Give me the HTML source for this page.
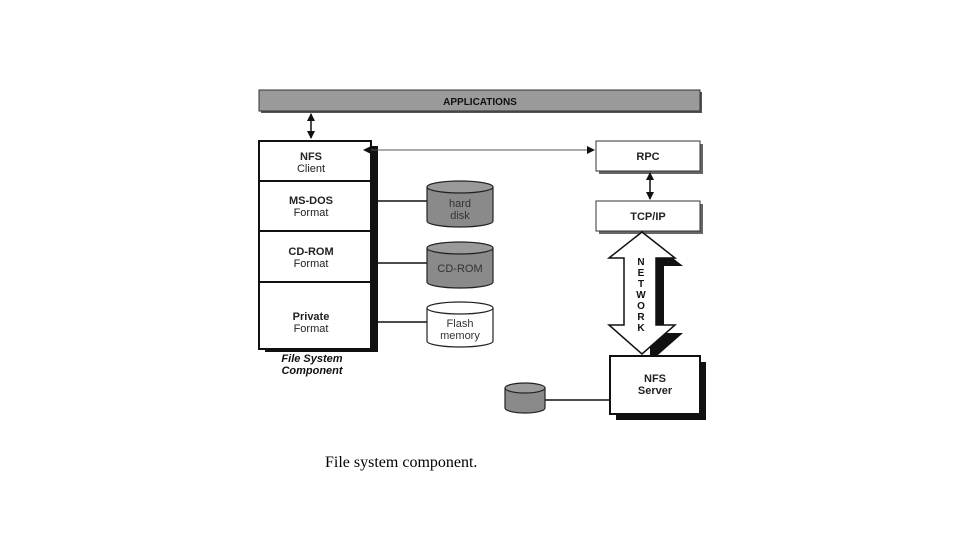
<!DOCTYPE html>
<html><head><meta charset="utf-8"><style>
body{margin:0;background:#fff;width:960px;height:540px;overflow:hidden}
svg{display:block}
</style></head><body>
<svg width="960" height="540" viewBox="0 0 960 540" font-family="Liberation Sans, Arial, sans-serif">
<defs>
<marker id="ah" markerWidth="8" markerHeight="8" refX="7" refY="4" orient="auto-start-reverse" markerUnits="userSpaceOnUse"><path d="M0,0 L8,4 L0,8 z" fill="#111"/></marker>
</defs>
<rect x="261" y="92" width="441" height="21" fill="#555"/>
<rect x="259" y="90" width="441" height="21" fill="#9a9a9a" stroke="#333" stroke-width="1"/>
<text x="480" y="105" font-size="10" font-weight="bold" text-anchor="middle" fill="#111">APPLICATIONS</text>
<line x1="311" y1="114" x2="311" y2="138" stroke="#111" stroke-width="1.5" marker-start="url(#ah)" marker-end="url(#ah)"/>
<rect x="366" y="146" width="12" height="206" fill="#111"/>
<rect x="265" y="346" width="113" height="6" fill="#111"/>
<rect x="259" y="141" width="112" height="208" fill="#fff" stroke="#111" stroke-width="2"/>
<line x1="259" y1="181" x2="371" y2="181" stroke="#111" stroke-width="2"/>
<line x1="259" y1="231" x2="371" y2="231" stroke="#111" stroke-width="2"/>
<line x1="259" y1="282" x2="371" y2="282" stroke="#111" stroke-width="2"/>
<g font-size="11" text-anchor="middle" fill="#222">
<text x="311" y="160" font-weight="bold">NFS</text><text x="311" y="172">Client</text>
<text x="311" y="204" font-weight="bold">MS-DOS</text><text x="311" y="216">Format</text>
<text x="311" y="255" font-weight="bold">CD-ROM</text><text x="311" y="267">Format</text>
<text x="311" y="320" font-weight="bold">Private</text><text x="311" y="332">Format</text>
</g>
<g font-size="11" font-weight="bold" font-style="italic" text-anchor="middle" fill="#111">
<text x="312" y="362">File System</text><text x="312" y="374">Component</text>
</g>
<g stroke="#111" stroke-width="1.5">
<line x1="371" y1="201" x2="427" y2="201"/>
<line x1="371" y1="263" x2="427" y2="263"/>
<line x1="371" y1="322" x2="427" y2="322"/>
<line x1="545" y1="400" x2="610" y2="400"/>
</g>
<g stroke="#222" stroke-width="1.2">
<path d="M427,187 V221 A33,6 0 0 0 493,221 V187" fill="#8a8a8a"/><ellipse cx="460" cy="187" rx="33" ry="6" fill="#9a9a9a"/>
<path d="M427,248 V282 A33,6 0 0 0 493,282 V248" fill="#8a8a8a"/><ellipse cx="460" cy="248" rx="33" ry="6" fill="#9a9a9a"/>
<path d="M427,308 V341 A33,6 0 0 0 493,341 V308" fill="#fff"/><ellipse cx="460" cy="308" rx="33" ry="6" fill="#fff"/>
<path d="M505,388 V408 A20,5 0 0 0 545,408 V388" fill="#8a8a8a"/><ellipse cx="525" cy="388" rx="20" ry="5" fill="#9a9a9a"/>
</g>
<g font-size="11" text-anchor="middle" fill="#333">
<text x="460" y="207">hard</text><text x="460" y="219">disk</text>
<text x="460" y="272">CD-ROM</text>
<text x="460" y="327">Flash</text><text x="460" y="339">memory</text>
</g>
<line x1="364" y1="150" x2="594" y2="150" stroke="#555" stroke-width="1" marker-start="url(#ah)" marker-end="url(#ah)"/>
<rect x="599" y="144" width="104" height="30" fill="#666"/>
<rect x="596" y="141" width="104" height="30" fill="#fff" stroke="#333" stroke-width="1"/>
<text x="648" y="160" font-size="11" font-weight="bold" text-anchor="middle" fill="#222">RPC</text>
<line x1="650" y1="173" x2="650" y2="199" stroke="#111" stroke-width="1.5" marker-start="url(#ah)" marker-end="url(#ah)"/>
<rect x="599" y="204" width="104" height="30" fill="#666"/>
<rect x="596" y="201" width="104" height="30" fill="#fff" stroke="#333" stroke-width="1"/>
<text x="648" y="220" font-size="11" font-weight="bold" text-anchor="middle" fill="#222">TCP/IP</text>
<path d="M650,240 L683,266 L664,266 L664,333 L683,333 L650,362 Z" fill="#111"/>
<path d="M642,232 L675,258 L656,258 L656,325 L675,325 L642,354 L609,325 L624,325 L624,258 L609,258 Z" fill="#fff" stroke="#111" stroke-width="1.5"/>
<g font-size="10" font-weight="bold" text-anchor="middle" fill="#111">
<text x="641" y="265">N</text><text x="641" y="276">E</text><text x="641" y="287">T</text><text x="641" y="298">W</text><text x="641" y="309">O</text><text x="641" y="320">R</text><text x="641" y="331">K</text>
</g>
<rect x="616" y="362" width="90" height="58" fill="#111"/>
<rect x="610" y="356" width="90" height="58" fill="#fff" stroke="#111" stroke-width="2"/>
<g font-size="11" font-weight="bold" text-anchor="middle" fill="#222">
<text x="655" y="382">NFS</text><text x="655" y="394">Server</text>
</g>
<text x="325" y="467" font-family="Liberation Serif, Times New Roman, serif" font-size="16" fill="#000">File system component.</text>
</svg>
</body></html>
